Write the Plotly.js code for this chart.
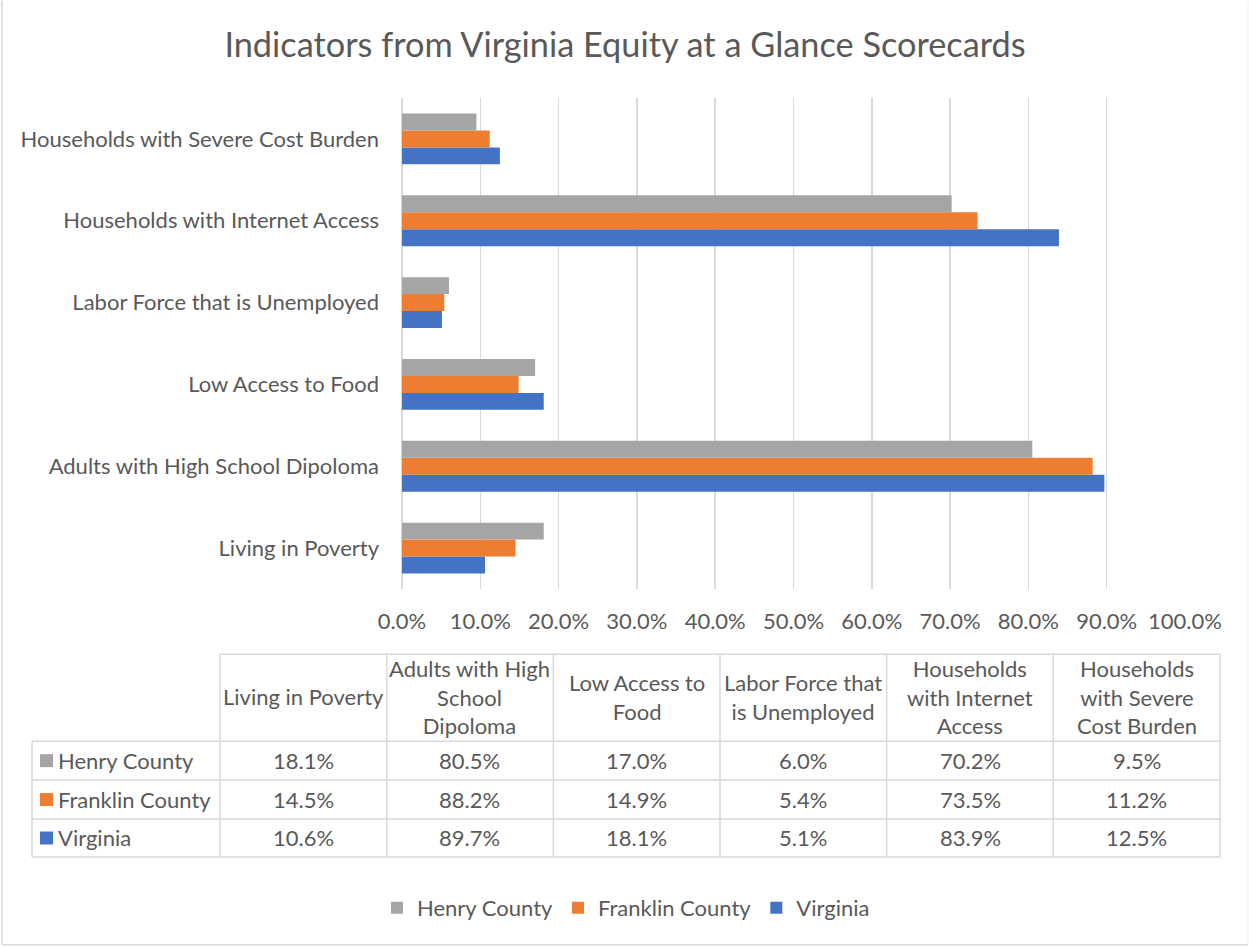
<!DOCTYPE html>
<html>
<head>
<meta charset="utf-8">
<script src="https://cdn.plot.ly/plotly-3.0.1.min.js"></script>
<style>html,body{margin:0;padding:0;background:#fff;}#chart{width:1249px;height:947px;}</style>
</head>
<body>
<div id="chart"></div>
<script>
// ---- data ----
const categories = ["Living in Poverty", "Adults with High School Dipoloma", "Low Access to Food", "Labor Force that is Unemployed", "Households with Internet Access", "Households with Severe Cost Burden"];
const tableHeaders = ["Living in Poverty", "Adults with High<br>School<br>Dipoloma", "Low Access to<br>Food", "Labor Force that<br>is Unemployed", "Households<br>with Internet<br>Access", "Households<br>with Severe<br>Cost Burden"];
const seriesNames = ["Henry County", "Franklin County", "Virginia"];
const henryCounty = [0.181, 0.805, 0.170, 0.060, 0.702, 0.095];
const franklinCounty = [0.145, 0.882, 0.149, 0.054, 0.735, 0.112];
const virginia = [0.106, 0.897, 0.181, 0.051, 0.839, 0.125];
const seriesColors = ["#a5a5a5", "#ed7d31", "#4472c4"];
const xTickValues = [0, 0.1, 0.2, 0.3, 0.4, 0.5, 0.6, 0.7, 0.8, 0.9, 1.0];

// ---- layout geometry (pixels) ----
const W = 1249, H = 947;
const plotL = 402, plotR = 1185, plotT = 97.5, plotB = 589.5;
const px2x = p => (p - plotL) / (plotR - plotL);
const px2y = p => (plotB - p) / (plotB - plotT);

const FONT = "Lato, Carlito, Calibri, 'Open Sans', sans-serif";
const TXT = "#595959";
const GRID = "#d9d9d9";
const FS = 22;

const seriesValues = [henryCounty, franklinCounty, virginia];

// traces: Virginia first so it's drawn at the bottom of each group
const traces = [];
for (let i = seriesNames.length - 1; i >= 0; i--) {
  traces.push({
    type: "bar",
    orientation: "h",
    name: seriesNames[i],
    y: categories,
    x: seriesValues[i],
    marker: {color: seriesColors[i], line: {width: 0}},
    hoverinfo: "none"
  });
}

// table shapes and annotations
const colEdges = [32];
for (let i = 0; i <= 6; i++) colEdges.push(220 + i * 1000 / 6);
const headTop = 655, headBot = 742;
const rowEdges = [742, 781, 820, 858];

const shapes = [];
const annotations = [];
const lineStyle = {color: GRID, width: 1.5};
function hline(x0, x1, y) {
  shapes.push({type: "line", xref: "paper", yref: "paper", x0: px2x(x0), x1: px2x(x1), y0: px2y(y), y1: px2y(y), line: lineStyle, layer: "above"});
}
function vline(x, y0, y1) {
  shapes.push({type: "line", xref: "paper", yref: "paper", x0: px2x(x), x1: px2x(x), y0: px2y(y0), y1: px2y(y1), line: lineStyle, layer: "above"});
}
// header
hline(colEdges[1], colEdges[7], headTop);
for (let c = 1; c <= 7; c++) vline(colEdges[c], headTop, headBot);
// body
rowEdges.forEach(y => hline(colEdges[0], colEdges[7], y));
for (let c = 0; c <= 7; c++) vline(colEdges[c], rowEdges[0], rowEdges[3]);

// header text
tableHeaders.forEach((h, c) => {
  annotations.push({
    xref: "paper", yref: "paper",
    x: px2x((colEdges[c + 1] + colEdges[c + 2]) / 2), y: px2y((headTop + headBot) / 2 - 1),
    text: h, showarrow: false, xanchor: "center", yanchor: "middle", align: "center",
    font: {family: FONT, size: FS, color: TXT}
  });
});
// body text
const fmtPct = v => (v * 100).toFixed(1) + "%";
seriesNames.forEach((name, r) => {
  const yc = (rowEdges[r] + rowEdges[r + 1]) / 2;
  // legend key square
  shapes.push({type: "rect", xref: "paper", yref: "paper",
    x0: px2x(40), x1: px2x(53), y0: px2y(yc - 6.5), y1: px2y(yc + 6.5),
    fillcolor: seriesColors[r], line: {width: 0}, layer: "above"});
  annotations.push({
    xref: "paper", yref: "paper", x: px2x(56), y: px2y(yc),
    text: name, showarrow: false, xanchor: "left", yanchor: "middle",
    font: {family: FONT, size: FS, color: TXT}
  });
  seriesValues[r].forEach((v, c) => {
    annotations.push({
      xref: "paper", yref: "paper",
      x: px2x((colEdges[c + 1] + colEdges[c + 2]) / 2), y: px2y(yc),
      text: fmtPct(v), showarrow: false, xanchor: "center", yanchor: "middle",
      font: {family: FONT, size: FS, color: TXT}
    });
  });
});

// chart border (left and bottom visible)
shapes.push({type: "line", xref: "paper", yref: "paper", x0: px2x(2), x1: px2x(2), y0: px2y(0), y1: px2y(946), line: {color: GRID, width: 1.5}});
shapes.push({type: "line", xref: "paper", yref: "paper", x0: px2x(2), x1: px2x(1248), y0: px2y(946), y1: px2y(946), line: {color: GRID, width: 1.5}});
shapes.push({type: "line", xref: "paper", yref: "paper", x0: px2x(1248), x1: px2x(1248), y0: px2y(0), y1: px2y(946), line: {color: "#f0f0f0", width: 1}});

const layout = {
  width: W, height: H,
  paper_bgcolor: "#fff", plot_bgcolor: "#fff",
  margin: {l: plotL, r: W - plotR, t: plotT, b: H - plotB, pad: 0},
  font: {family: FONT, color: TXT, size: FS},
  title: {
    text: "Indicators from Virginia Equity at a Glance Scorecards",
    font: {family: FONT, size: 34.3, color: TXT},
    x: 625 / W, xanchor: "center", xref: "container",
    y: 1 - 45 / H, yanchor: "middle", yref: "container"
  },
  barmode: "group",
  bargap: 0.378,
  bargroupgap: 0,
  showlegend: true,
  legend: {
    orientation: "h", traceorder: "reversed",
    x: px2x(626), xanchor: "center", y: px2y(909), yanchor: "middle",
    font: {family: FONT, size: FS, color: TXT},
    itemwidth: 30, itemclick: false, itemdoubleclick: false
  },
  xaxis: {
    range: [0, 1], tickvals: xTickValues, tickformat: ".1%",
    showgrid: true, gridcolor: GRID, gridwidth: 1.5,
    zeroline: true, zerolinecolor: GRID, zerolinewidth: 1.5,
    showline: false, ticks: "", ticklabelstandoff: 17,
    tickfont: {family: FONT, size: FS, color: TXT}, fixedrange: true
  },
  yaxis: {
    type: "category", categoryorder: "array", categoryarray: categories,
    showgrid: false, zeroline: false, showline: false, ticks: "",
    ticklabelstandoff: 22,
    tickfont: {family: FONT, size: FS, color: TXT}, fixedrange: true
  },
  shapes: shapes,
  annotations: annotations
};

Plotly.newPlot("chart", traces, layout, {displayModeBar: false, staticPlot: true});
</script>
</body>
</html>
